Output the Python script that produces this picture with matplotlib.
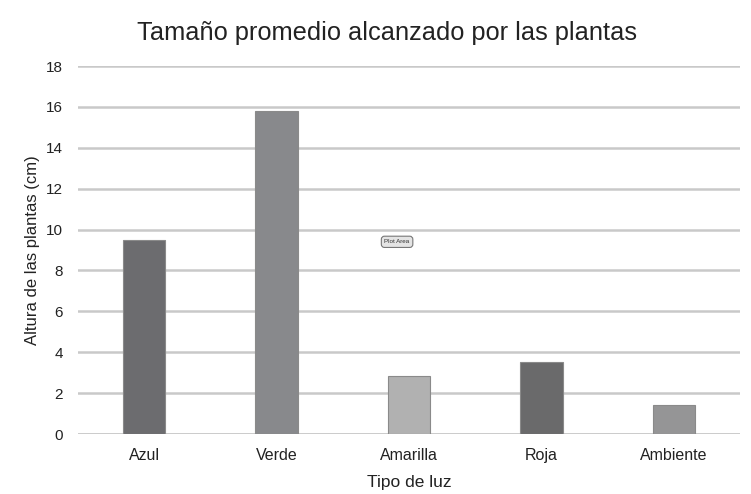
import matplotlib.pyplot as plt
import numpy as np

plt.rcParams['font.family'] = ['Liberation Sans', 'DejaVu Sans']

tipos_luz = ['Azul', 'Verde', 'Amarilla', 'Roja', 'Ambiente']
altura_cm = [9.5, 15.8, 2.85, 3.5, 1.4]
colores = ['#6c6c6f', '#88898c', '#b1b1b1', '#6a6a6b', '#959596']
y_ticks = list(range(0, 20, 2))

fig = plt.figure(figsize=(7.51, 4.94), dpi=100)
ax = fig.add_axes([78 / 751, 60 / 494, 662 / 751, 368 / 494])

x = np.arange(len(tipos_luz))
ax.bar(x, altura_cm, width=0.32, color=colores,
       edgecolor='#8a8a8a', linewidth=0.8, zorder=3)

ax.set_xlim(-0.5, len(tipos_luz) - 0.5)
ax.set_ylim(0, 18)
ax.set_yticks(y_ticks)
ax.set_xticks(x)
ax.set_xticklabels(tipos_luz)
ax.tick_params(length=0, labelsize=11.5, colors='#222222', pad=10)
ax.tick_params(axis='y', labelsize=11, pad=11)

ax.grid(axis='y', color='#c9c9c9', linewidth=1.8, zorder=0)
for side in ['top', 'right', 'left', 'bottom']:
    ax.spines[side].set_visible(False)
ax.axhline(0, color='#c9c9c9', linewidth=1.8, zorder=1)

ax.set_xlabel('Tipo de luz', fontsize=12.5, color='#222222', labelpad=9)
ax.set_ylabel('Altura de las plantas (cm)', fontsize=12, color='#222222', labelpad=4)
fig.text(0.515, 0.933, 'Tamaño promedio alcanzado por las plantas',
         ha='center', va='center', fontsize=18.3, color='#222222')

# small hover badge over the plot area
ax.text(1.91, 9.4, 'Plot Area', ha='center', va='center', fontsize=4.5,
        color='#333333', zorder=5,
        bbox=dict(boxstyle='round,pad=0.5', fc='#e4e4e4', ec='#777777', lw=0.8))

fig.savefig('out.png', dpi=100)
